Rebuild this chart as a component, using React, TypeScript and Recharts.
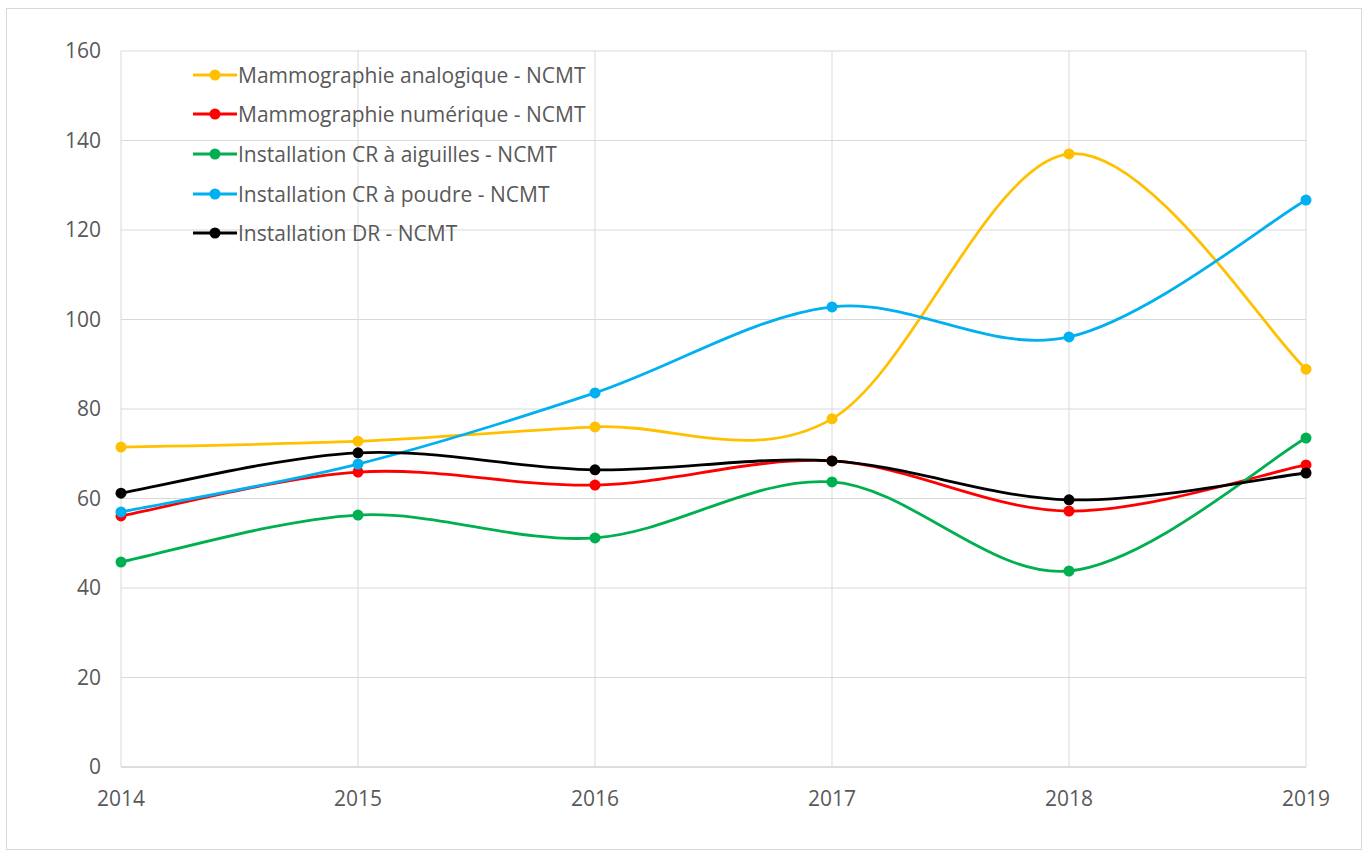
import React from "react";
import { LineChart, Line, XAxis, YAxis, CartesianGrid } from "recharts";

const years = [2014, 2015, 2016, 2017, 2018, 2019];
const analogique = [71.5, 72.8, 76.0, 77.8, 137.0, 88.9];
const numerique = [56.1, 65.9, 63.0, 68.4, 57.2, 67.5];
const aiguilles = [45.8, 56.3, 51.2, 63.7, 43.8, 73.5];
const poudre = [57.0, 67.7, 83.6, 102.8, 96.1, 126.7];
const dr = [61.2, 70.2, 66.4, 68.4, 59.7, 65.7];
const yTicks = [0, 20, 40, 60, 80, 100, 120, 140, 160];

const seriesNames = [
  "Mammographie analogique - NCMT",
  "Mammographie numérique - NCMT",
  "Installation CR à aiguilles - NCMT",
  "Installation CR à poudre - NCMT",
  "Installation DR - NCMT",
];
const seriesKeys = ["analogique", "numerique", "aiguilles", "poudre", "dr"];
const seriesColors = ["#FFC000", "#FF0000", "#00B050", "#00B0F0", "#000000"];

const data = years.map((y, i) => ({
  year: y,
  analogique: analogique[i],
  numerique: numerique[i],
  aiguilles: aiguilles[i],
  poudre: poudre[i],
  dr: dr[i],
}));

// Excel-like smoothed line (Catmull-Rom / cardinal spline)
function excelCurve(context: any) {
  let pts: number[][] = [];
  return {
    areaStart() {},
    areaEnd() {},
    lineStart() {
      pts = [];
    },
    lineEnd() {
      const n = pts.length;
      if (!n) return;
      context.moveTo(pts[0][0], pts[0][1]);
      for (let i = 0; i < n - 1; i++) {
        const p0 = pts[i - 1] || pts[i];
        const p1 = pts[i];
        const p2 = pts[i + 1];
        const p3 = pts[i + 2] || pts[i + 1];
        const c1x = p1[0] + (p2[0] - p0[0]) / 6;
        const c1y = p1[1] + (p2[1] - p0[1]) / 6;
        const c2x = p2[0] - (p3[0] - p1[0]) / 6;
        const c2y = p2[1] - (p3[1] - p1[1]) / 6;
        context.bezierCurveTo(c1x, c1y, c2x, c2y, p2[0], p2[1]);
      }
    },
    point(x: number, y: number) {
      pts.push([+x, +y]);
    },
  };
}

const FONT = "'Open Sans', sans-serif";

const LegendBox = () => (
  <div style={{ position: "absolute", left: 193, top: 55, fontFamily: FONT }}>
    {seriesNames.map((name, i) => (
      <div key={name} style={{ display: "flex", alignItems: "center", height: 39.6 }}>
        <svg width={44} height={14} style={{ marginRight: 1 }}>
          <line x1={0} y1={7} x2={44} y2={7} stroke={seriesColors[i]} strokeWidth={2.8} />
          <circle cx={22} cy={7} r={5.5} fill={seriesColors[i]} />
        </svg>
        <span style={{ fontSize: 21, color: "#595959", whiteSpace: "nowrap" }}>{name}</span>
      </div>
    ))}
  </div>
);

export default function App() {
  return (
    <div style={{ position: "absolute", left: 0, top: 0, width: 1369, height: 854, background: "#fff" }}>
      <div
        style={{
          position: "absolute",
          left: 6,
          top: 8,
          width: 1356,
          height: 842,
          border: "1px solid #d9d9d9",
          boxSizing: "border-box",
        }}
      />
      <div style={{ position: "absolute", left: 0, top: 0 }}>
        <LineChart
          width={1369}
          height={854}
          data={data}
          margin={{ top: 51, right: 63, bottom: 47, left: 0 }}
        >
          <CartesianGrid stroke="#d9d9d9" strokeWidth={1} />
          <XAxis
            dataKey="year"
            type="number"
            domain={[2014, 2019]}
            ticks={years}
            height={40}
            tickLine={false}
            tickSize={0}
            tickMargin={24}
            axisLine={{ stroke: "#d9d9d9", strokeWidth: 1.5 }}
            tick={{ fill: "#595959", fontSize: 21, fontFamily: FONT }}
          />
          <YAxis
            domain={[0, 160]}
            ticks={yTicks}
            width={121}
            axisLine={false}
            tickLine={false}
            tickSize={0}
            tickMargin={20}
            tick={{ fill: "#595959", fontSize: 21, fontFamily: FONT }}
          />
          {seriesKeys.map((k, i) => (
            <Line
              key={k}
              dataKey={k}
              name={seriesNames[i]}
              type={excelCurve as any}
              stroke={seriesColors[i]}
              strokeWidth={2.8}
              dot={{ r: 5.5, fill: seriesColors[i], stroke: seriesColors[i], strokeWidth: 0 }}
              activeDot={false}
              isAnimationActive={false}
            />
          ))}
        </LineChart>
      </div>
      <LegendBox />
    </div>
  );
}
